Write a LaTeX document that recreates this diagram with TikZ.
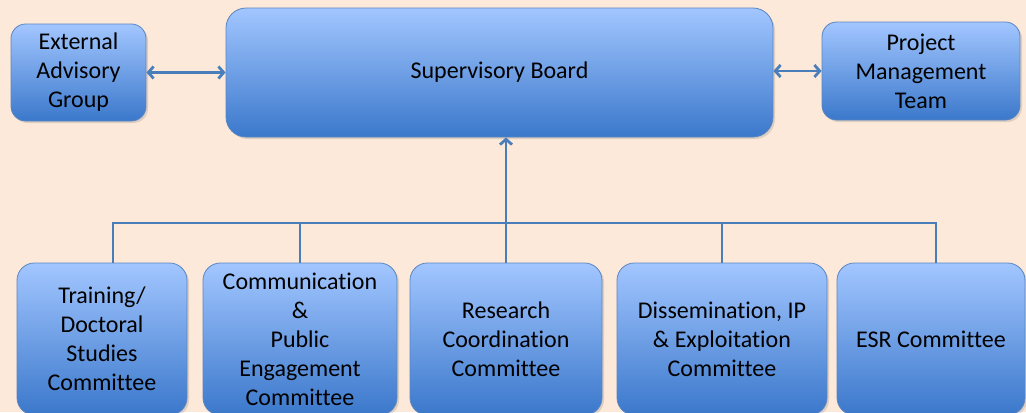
\documentclass[tikz,border=0pt]{standalone}
\usepackage{fontspec}
\setmainfont[Ligatures=NoCommon]{Carlito}
\usetikzlibrary{arrows.meta,shadows}
\definecolor{peach}{HTML}{FDE9D9}
\definecolor{boxtop}{HTML}{A2C6FF}
\definecolor{boxbot}{HTML}{3B78CB}
\definecolor{edge}{HTML}{5A86C0}
\definecolor{wire}{HTML}{4A7EBB}
\begin{document}
\begin{tikzpicture}[x=0.75pt,y=-0.75pt,
    box/.style={draw=edge, line width=0.6pt, rounded corners=13pt,
      top color=boxtop, bottom color=boxbot, align=center,
      font=\fontsize{18}{21.75}\selectfont,
      drop shadow={opacity=0.25, shadow xshift=1.5pt, shadow yshift=-1.5pt}},
    link/.style={draw=wire, line width=2.1pt}]
    \fill[peach, use as bounding box] (0,0) rectangle (1026,412);

    % top row
    \node[box, minimum width=101.25pt, minimum height=72.75pt, rounded corners=11pt] (eag) at (78.5,72.5) {External\\Advisory\\Group};
    \node[box, minimum width=410.25pt, minimum height=96.75pt, rounded corners=15pt] (sb) at (499.5,72.5) {Supervisory Board};
    \node[box, minimum width=148.5pt, minimum height=73.5pt, rounded corners=11pt] (pmt) at (921,71) {Project\\Management\\Team};

    % committees
    \node[box, minimum width=127.5pt, minimum height=114pt] (train) at (102,339) {Training/\\Doctoral\\Studies\\Committee};
    \node[box, minimum width=145.5pt, minimum height=114pt] (comm) at (300,339) {Communication\\\&\\Public\\Engagement\\Committee};
    \node[box, minimum width=144pt, minimum height=114pt] (res) at (506,339) {Research\\Coordination\\Committee};
    \node[box, minimum width=157.5pt, minimum height=114pt] (diss) at (722,339) {Dissemination, IP\\\& Exploitation\\Committee};
    \node[box, minimum width=141pt, minimum height=114pt] (esr) at (931,339) {ESR Committee};

    \coordinate (bus) at (506,223);

    \draw[link, {Straight Barb[length=4pt,width=9pt]}-{Straight Barb[length=4pt,width=9pt]}] (eag) -- (sb);
    \draw[link, {Straight Barb[length=4pt,width=9pt]}-{Straight Barb[length=4pt,width=9pt]}] (sb.east |- pmt.west) -- (pmt.west);

    \draw[link] ([xshift=8.25pt]train.north) |- (bus) -| ([xshift=3.75pt]esr.north);
    \draw[link] (comm.north) -- (comm.north |- bus);
    \draw[link] (diss.north) -- (diss.north |- bus);
    \draw[link, -{Straight Barb[length=4pt,width=9pt]}] (res.north) -- (res.north |- sb.south);
\end{tikzpicture}
\end{document}
